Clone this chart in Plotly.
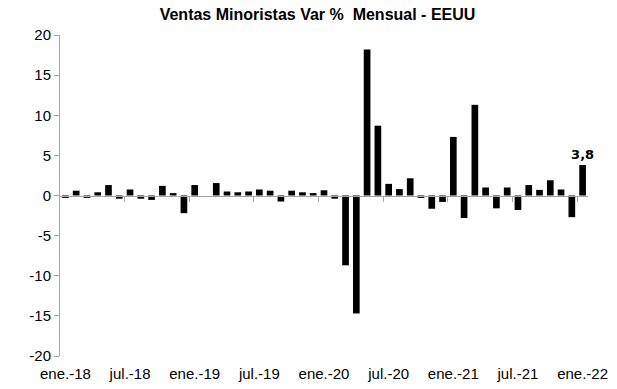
import plotly.graph_objects as go

month_abbr = ["ene.", "feb.", "mar.", "abr.", "may.", "jun.",
              "jul.", "ago.", "sept.", "oct.", "nov.", "dic."]
years = ["18", "19", "20", "21", "22"]
months = [f"{m}-{y}" for y in years for m in month_abbr][:49]

values = [
    -0.3, 0.6, -0.3, 0.4, 1.3, -0.4, 0.75, -0.4, -0.55, 1.2, 0.3, -2.2,
    1.3, 0.0, 1.55, 0.5, 0.4, 0.5, 0.75, 0.6, -0.75, 0.6, 0.4, 0.3,
    0.65, -0.4, -8.7, -14.7, 18.2, 8.7, 1.45, 0.8, 2.15, -0.3, -1.65, -0.8,
    7.3, -2.8, 11.3, 1.0, -1.6, 1.0, -1.8, 1.3, 0.7, 1.9, 0.75, -2.7,
    3.8,
]

tick_labels = months[::6]
y_ticks = [-20, -15, -10, -5, 0, 5, 10, 15, 20]
y_tick_text = [str(v) for v in y_ticks]
bar_labels = [""] * (len(values) - 1) + [f"{values[-1]:.1f}".replace(".", ",")]

fig = go.Figure()
fig.add_trace(go.Bar(
    x=months, y=values,
    marker=dict(color="black", line=dict(width=0)),
    text=bar_labels, textposition="outside", cliponaxis=False,
    constraintext="none",
    textfont=dict(family="DejaVu Sans", size=13, color="black", weight="bold"),
    showlegend=False,
))
# helper trace for the zero line axis with tick marks between groups
fig.add_trace(go.Scatter(x=[0, len(values) - 1], y=[0, 0], xaxis="x2",
                         mode="lines", line=dict(width=0), hoverinfo="skip",
                         showlegend=False))

fig.update_layout(
    width=617, height=389,
    margin=dict(l=60, r=29, t=35, b=33, autoexpand=False),
    paper_bgcolor="white", plot_bgcolor="white",
    title=dict(text="<b>Ventas Minoristas Var %  Mensual - EEUU</b>",
               x=0.5146, xanchor="center", y=0.963, yanchor="middle",
               font=dict(family="Liberation Sans", size=16, color="black")),
    bargap=0.38,
    xaxis=dict(type="category", tickmode="array", tickvals=tick_labels,
               ticktext=tick_labels, ticks="", showline=False, showgrid=False,
               ticklabelstandoff=7, automargin=False,
               tickfont=dict(family="Liberation Sans", size=15, color="black")),
    xaxis2=dict(overlaying="x", anchor="free", position=0.5, side="bottom",
                range=[-0.5, len(values) - 0.5], showgrid=False, zeroline=False,
                showline=True, linecolor="#a6a6a6", linewidth=1,
                tickmode="array", tickvals=[5.5 + 6 * k for k in range(8)],
                ticks="outside", ticklen=5, tickcolor="#a6a6a6",
                showticklabels=False, automargin=False),
    yaxis=dict(range=[-20, 20], tickmode="array", tickvals=y_ticks,
               ticktext=y_tick_text, showgrid=False, zeroline=False,
               showline=True, linecolor="#a6a6a6", linewidth=1,
               ticks="outside", ticklen=5, tickcolor="#a6a6a6",
               automargin=False,
               tickfont=dict(family="Liberation Sans", size=15, color="black")),
)

# remove the default 8px page margin so the figure fills the window exactly
fig.write_html("out.html",
               config={"displayModeBar": False, "staticPlot": True},
               post_script="document.body.style.margin='0px';"
                           "document.body.style.overflow='hidden';")
